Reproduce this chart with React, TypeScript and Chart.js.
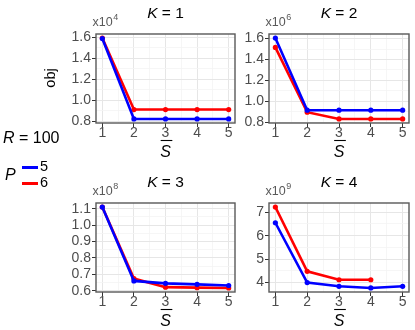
import React, { useEffect, useRef } from "react";
import { Chart, registerables } from "chart.js";

Chart.register(...registerables);

// ---------- data ----------
const S_BAR = [1, 2, 3, 4, 5];

const K1_P5 = [1.59, 0.82, 0.82, 0.82, 0.82];
const K1_P6 = [1.595, 0.91, 0.91, 0.91, 0.91];
const K2_P5 = [1.605, 0.914, 0.914, 0.914, 0.914];
const K2_P6 = [1.515, 0.895, 0.83, 0.83, 0.83];
const K3_P5 = [1.11, 0.66, 0.645, 0.639, 0.632];
const K3_P6 = [1.11, 0.674, 0.622, 0.619, 0.617];
const K4_P5 = [6.55, 4.0, 3.84, 3.77, 3.84];
const K4_P6 = [7.22, 4.48, 4.12, 4.12, null];

const X_TICKS = [1, 2, 3, 4, 5];
const Y_TICKS_K1 = [0.8, 1.0, 1.2, 1.4, 1.6];
const Y_TICKS_K2 = [0.8, 1.0, 1.2, 1.4, 1.6];
const Y_TICKS_K3 = [0.6, 0.7, 0.8, 0.9, 1.0, 1.1];
const Y_TICKS_K4 = [4, 5, 6, 7];

const EXPONENTS = ["4", "6", "8", "9"];
const K_LABELS = ["1", "2", "3", "4"];
const P_LABELS = ["5", "6"];
const R_LABEL = "100";

const COLOR_P5 = "#0000ff";
const COLOR_P6 = "#ff0000";

const FONT = "'Liberation Sans', Arial, Helvetica, sans-serif";

// ---------- layout ----------
const Y_AXIS_W = 50;
const X_AXIS_H = 36;
const TOP_PAD = 34;
const RIGHT_PAD = 4;

function minorsOf(major: number[], lo: number, hi: number) {
  const step = major[1] - major[0];
  const out: number[] = [];
  for (let i = -1; i < major.length; i++) {
    const v = (i < 0 ? major[0] - step : major[i]) + step / 2;
    if (v > lo && v < hi) out.push(v);
  }
  return out;
}

type PanelProps = {
  left: number;
  top: number;
  width: number;
  height: number;
  p5: (number | null)[];
  p6: (number | null)[];
  yTicks: number[];
  decimals: number;
  k: string;
  exp: string;
};

function Panel(props: PanelProps) {
  const ref = useRef<HTMLCanvasElement | null>(null);
  useEffect(() => {
    const canvas = ref.current!;
    const all = [...props.p5, ...props.p6].filter((v) => v !== null) as number[];
    const dmin = Math.min(...all);
    const dmax = Math.max(...all);
    const pad = (dmax - dmin) * 0.05;
    const yMin = dmin - pad;
    const yMax = dmax + pad;
    const xMin = 0.8;
    const xMax = 5.2;
    const yMinor = minorsOf(props.yTicks, yMin, yMax);
    const xMinor = minorsOf(X_TICKS, xMin, xMax);

    const mkTicks = (major: number[], minor: number[]) =>
      [...major.map((v) => ({ value: v, minor: false })), ...minor.map((v) => ({ value: v, minor: true }))].sort(
        (a, b) => a.value - b.value
      );

    const gridOpts = {
      color: (c: any) => (c.tick && c.tick.minor ? "#f4f4f4" : "#e6e6e6"),
      lineWidth: (c: any) => (c.tick && c.tick.minor ? 0.8 : 1),
      tickColor: (c: any) => (c.tick && c.tick.minor ? "rgba(0,0,0,0)" : "#333333"),
      tickLength: 4,
      drawTicks: true,
    };

    const decorPlugin = {
      id: "decor",
      afterDatasetsDraw(chart: any) {
        const ctx = chart.ctx as CanvasRenderingContext2D;
        const a = chart.chartArea;
        ctx.save();
        // panel border
        ctx.strokeStyle = "#595959";
        ctx.lineWidth = 1.4;
        ctx.strokeRect(a.left, a.top, a.right - a.left, a.bottom - a.top);

        // title: K = n
        const cx = (a.left + a.right) / 2;
        ctx.fillStyle = "#000";
        ctx.textBaseline = "alphabetic";
        ctx.font = `italic 15.5px ${FONT}`;
        const kW = ctx.measureText("K").width;
        ctx.font = `15.5px ${FONT}`;
        const rest = " = " + props.k;
        const rW = ctx.measureText(rest).width;
        const tx = cx - (kW + rW) / 2;
        ctx.font = `italic 15.5px ${FONT}`;
        ctx.fillText("K", tx, a.top - 16);
        ctx.font = `15.5px ${FONT}`;
        ctx.fillText(rest, tx + kW, a.top - 16);

        // exponent x10^n
        ctx.fillStyle = "#595959";
        ctx.font = `12.5px ${FONT}`;
        const ex = a.left - 3.5;
        ctx.fillText("x10", ex, a.top - 8);
        const w10 = ctx.measureText("x10").width;
        ctx.font = `9px ${FONT}`;
        ctx.fillText(props.exp, ex + w10 + 0.5, a.top - 14);

        // x title: S with overline
        ctx.fillStyle = "#000";
        ctx.font = `italic 16px ${FONT}`;
        const sW = ctx.measureText("S").width;
        const sx = cx - sW / 2;
        const sy = a.bottom + 34;
        ctx.fillText("S", sx, sy);
        ctx.strokeStyle = "#000";
        ctx.lineWidth = 1.1;
        ctx.beginPath();
        ctx.moveTo(sx + 0.5, sy - 16.5);
        ctx.lineTo(sx + sW + 1.5, sy - 16.5);
        ctx.stroke();
        ctx.restore();
      },
    };

    const toPts = (vals: (number | null)[]) => S_BAR.map((x, i) => ({ x, y: vals[i] }));

    const chart = new Chart(canvas, {
      type: "line",
      data: {
        datasets: [
          {
            data: toPts(props.p5) as any,
            borderColor: COLOR_P5,
            backgroundColor: COLOR_P5,
            borderWidth: 2.6,
            pointRadius: 2.6,
            pointBorderWidth: 0,
            tension: 0,
            clip: false as any,
          },
          {
            data: toPts(props.p6) as any,
            borderColor: COLOR_P6,
            backgroundColor: COLOR_P6,
            borderWidth: 2.6,
            pointRadius: 2.6,
            pointBorderWidth: 0,
            tension: 0,
            clip: false as any,
          },
        ],
      },
      options: {
        animation: false,
        responsive: false,
        maintainAspectRatio: false,
        devicePixelRatio: 1,
        events: [],
        layout: { padding: { left: 0, top: TOP_PAD, right: RIGHT_PAD, bottom: 0 } },
        plugins: { legend: { display: false }, tooltip: { enabled: false }, title: { display: false } },
        scales: {
          x: {
            type: "linear",
            min: xMin,
            max: xMax,
            afterBuildTicks: (s: any) => {
              s.ticks = mkTicks(X_TICKS, xMinor);
            },
            afterFit: (s: any) => {
              s.height = X_AXIS_H;
              s.paddingLeft = 0;
              s.paddingRight = 0;
            },
            border: { display: false },
            grid: gridOpts as any,
            ticks: {
              autoSkip: false,
              maxRotation: 0,
              padding: -2.5,
              color: "#4d4d4d",
              font: { family: FONT, size: 14 },
              callback: (v: any, i: number, ticks: any[]) => (ticks[i].minor ? "" : String(v)),
            },
          },
          y: {
            type: "linear",
            min: yMin,
            max: yMax,
            afterBuildTicks: (s: any) => {
              s.ticks = mkTicks(props.yTicks, yMinor);
            },
            afterFit: (s: any) => {
              s.width = Y_AXIS_W;
              s.paddingTop = 0;
              s.paddingBottom = 0;
            },
            border: { display: false },
            grid: gridOpts as any,
            ticks: {
              autoSkip: false,
              padding: 1,
              color: "#4d4d4d",
              font: { family: FONT, size: 14 },
              callback: (v: any, i: number, ticks: any[]) =>
                ticks[i].minor ? "" : Number(v).toFixed(props.decimals),
            },
          },
        },
      },
      plugins: [decorPlugin],
    });
    return () => chart.destroy();
  }, []);

  const cw = props.width + Y_AXIS_W + RIGHT_PAD;
  const ch = props.height + TOP_PAD + X_AXIS_H;
  return (
    <canvas
      ref={ref}
      width={cw}
      height={ch}
      style={{
        position: "absolute",
        left: props.left - Y_AXIS_W,
        top: props.top - TOP_PAD,
        width: cw,
        height: ch,
      }}
    />
  );
}

export default function App() {
  const text = { position: "absolute" as const, fontFamily: FONT, color: "#000", whiteSpace: "nowrap" as const };
  return (
    <div
      style={{
        position: "fixed",
        left: 0,
        top: 0,
        width: 415,
        height: 330,
        background: "#fff",
        overflow: "hidden",
      }}
    >
      <Panel left={96} top={34} width={139} height={89} p5={K1_P5} p6={K1_P6} yTicks={Y_TICKS_K1} decimals={1} k={K_LABELS[0]} exp={EXPONENTS[0]} />
      <Panel left={269} top={34} width={140} height={89} p5={K2_P5} p6={K2_P6} yTicks={Y_TICKS_K2} decimals={1} k={K_LABELS[1]} exp={EXPONENTS[1]} />
      <Panel left={96} top={203} width={139} height={89} p5={K3_P5} p6={K3_P6} yTicks={Y_TICKS_K3} decimals={1} k={K_LABELS[2]} exp={EXPONENTS[2]} />
      <Panel left={269} top={203} width={140} height={89} p5={K4_P5} p6={K4_P6} yTicks={Y_TICKS_K4} decimals={0} k={K_LABELS[3]} exp={EXPONENTS[3]} />

      {/* y title */}
      <div
        style={{
          ...text,
          fontSize: 14.5,
          left: 50,
          top: 78,
          transform: "translate(-50%, -50%) rotate(-90deg)",
          lineHeight: "15px",
        }}
      >
        obj
      </div>

      {/* legend */}
      <div style={{ ...text, fontSize: 16, left: 3, top: 129, lineHeight: "17px" }}>
        <i>R</i> = {R_LABEL}
      </div>
      <div style={{ ...text, fontSize: 16, left: 5, top: 166, lineHeight: "17px" }}>
        <i>P</i>
      </div>
      <div style={{ position: "absolute", left: 22, top: 166, width: 16, height: 2.6, background: COLOR_P5 }} />
      <div style={{ position: "absolute", left: 22, top: 182, width: 16, height: 2.6, background: COLOR_P6 }} />
      <div style={{ ...text, fontSize: 14.5, left: 40, top: 158, lineHeight: "16px" }}>{P_LABELS[0]}</div>
      <div style={{ ...text, fontSize: 14.5, left: 40, top: 174, lineHeight: "16px" }}>{P_LABELS[1]}</div>
    </div>
  );
}
